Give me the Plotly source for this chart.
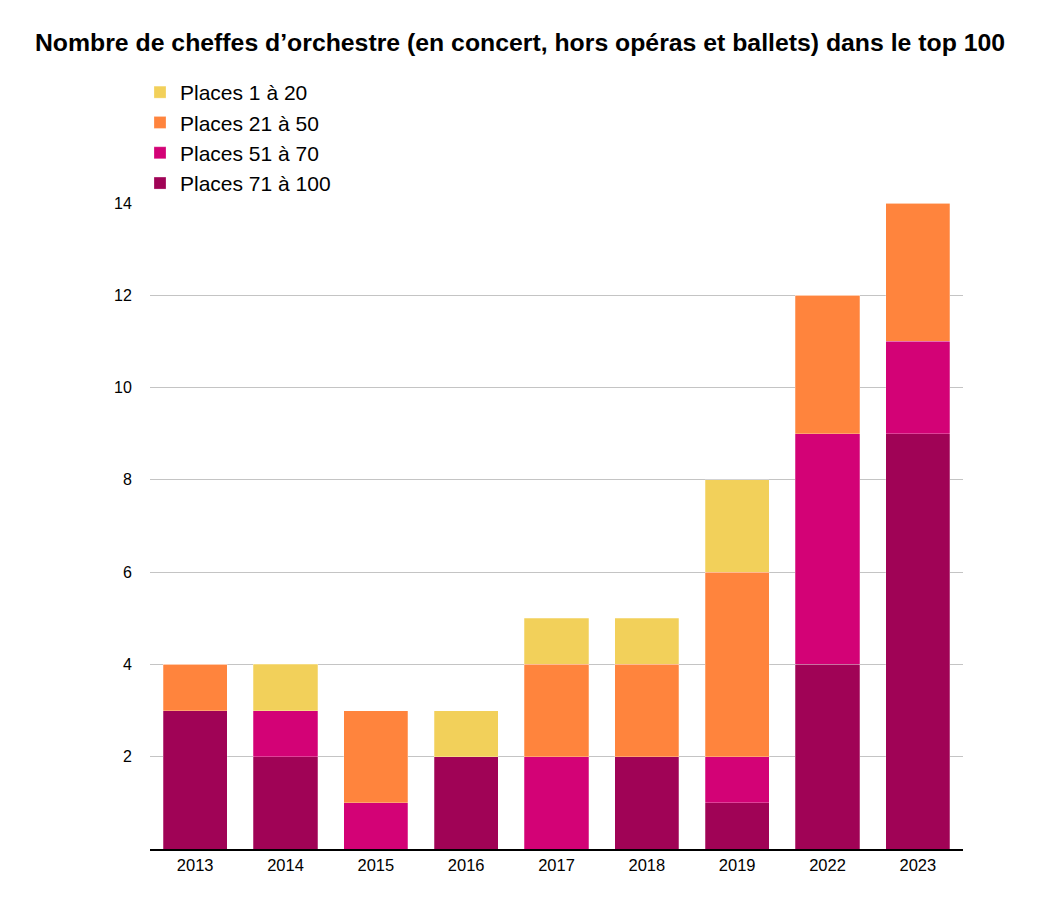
import plotly.graph_objects as go

years = ["2013", "2014", "2015", "2016", "2017", "2018", "2019", "2022", "2023"]
places_71_100 = [3, 2, 0, 2, 0, 2, 1, 4, 9]
places_51_70 = [0, 1, 1, 0, 2, 0, 1, 5, 2]
places_21_50 = [1, 0, 2, 0, 2, 2, 4, 3, 3]
places_1_20 = [0, 1, 0, 1, 1, 1, 2, 0, 0]

series = [
    ("Places 71 à 100", places_71_100, "#A00356"),
    ("Places 51 à 70", places_51_70, "#D30276"),
    ("Places 21 à 50", places_21_50, "#FF843D"),
    ("Places 1 à 20", places_1_20, "#F2D05A"),
]

fig = go.Figure()
for name, vals, col in series:
    fig.add_trace(go.Bar(
        x=years, y=vals, name=name,
        marker=dict(color=col, line=dict(color="rgba(255,255,255,0.5)", width=0.5)),
    ))

FONT = "Liberation Sans, Arial, Helvetica, sans-serif"
fig.update_layout(
    width=1040, height=900,
    barmode="stack", bargap=0.29,
    plot_bgcolor="white", paper_bgcolor="white",
    margin=dict(l=150, r=77, t=203, b=51),
    font=dict(family=FONT, color="#000000"),
    title=dict(
        text="<b>Nombre de cheffes d’orchestre (en concert, hors opéras et ballets) dans le top 100</b>",
        x=0.5, xanchor="center", xref="container", y=1 - 42 / 900, yanchor="middle",
        font=dict(size=24.8, family=FONT, color="#000000"),
    ),
    legend=dict(
        x=-10 / 813, xanchor="left", y=1 + (203 - 72) / 646, yanchor="top",
        traceorder="reversed", font=dict(size=21, family=FONT),
        bgcolor="rgba(0,0,0,0)", tracegroupgap=0,
    ),
    xaxis=dict(
        showline=True, linecolor="#000000", linewidth=1.5,
        ticks="", tickfont=dict(size=16.5, family=FONT),
        showgrid=False,
    ),
    yaxis=dict(
        range=[0, 14], tickvals=[2, 4, 6, 8, 10, 12, 14],
        showgrid=True, gridcolor="#C4C4C4", gridwidth=1,
        zeroline=False, showline=False,
        ticks="outside", ticklen=14, tickcolor="rgba(0,0,0,0)",
        tickfont=dict(size=16, family=FONT),
    ),
)

fig.write_html("out.html")
